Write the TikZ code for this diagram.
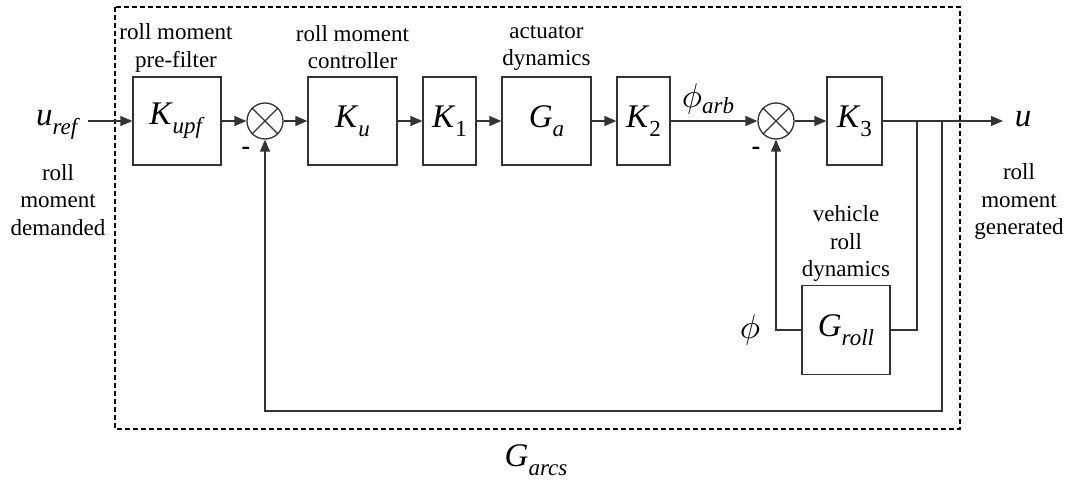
\documentclass[tikz,border=0pt]{standalone}
\usepackage{fontspec}
\usepackage{graphicx}
\setmainfont{Liberation Serif}
\usetikzlibrary{arrows.meta}
\newcommand\blksym[2]{{\fontsize{33}{33}\selectfont\textit{#1}}\raisebox{-9pt}{\fontsize{23}{23}\selectfont #2}}
\newcommand\phisym{\scalebox{3.4}{$\phi$}}
\tikzset{
  ln/.style={draw=black!80, line width=1.3pt},
  blk/.style={ln, rectangle, minimum height=88pt, inner sep=0pt},
  sumj/.style={ln, circle, minimum size=36pt, inner sep=0pt},
  arr/.style={ln, -{Triangle[length=12pt,width=10pt]}},
  lbl/.style={align=center, inner sep=0pt, font=\fontsize{23}{27.5}\selectfont},
  sign/.style={inner sep=0pt, font=\fontsize{26}{26}\selectfont\bfseries},
  frame/.style={draw=black, line width=2.2pt, dash pattern=on 5pt off 3pt}
}
\begin{document}
\begin{tikzpicture}[x=1pt,y=-1pt]
\useasboundingbox (0,0) rectangle (1072,484);
\draw[frame] (115,7) rectangle (960,429);
% blocks
\node[blk, minimum width=88pt] (kupf) at (177,121) {\blksym{K}{\textit{upf}}};
\node[sumj] (s1) at (265,121) {};
\node[blk, minimum width=89pt] (ku) at (352.5,121) {\blksym{K}{\textit{u}}};
\node[blk, minimum width=53pt] (k1) at (449.5,121) {\blksym{K}{1}};
\node[blk, minimum width=89pt] (ga) at (546.5,121) {\blksym{G}{\textit{a}}};
\node[blk, minimum width=53pt] (k2) at (643.5,121) {\blksym{K}{2}};
\node[sumj] (s2) at (776,121) {};
\node[blk, minimum width=55pt] (k3) at (854.5,121) {\blksym{K}{3}};
\node[blk, minimum width=88pt, minimum height=89pt] (groll) at (846,330) {\blksym{G}{\textit{roll}}};
% crosses
\draw[ln] (s1.north east) -- (s1.south west) (s1.north west) -- (s1.south east);
\draw[ln] (s2.north east) -- (s2.south west) (s2.north west) -- (s2.south east);
% coordinates
\coordinate (in) at (88,121);
\coordinate (b1) at (917,121);
\coordinate (b2) at (942,121);
\coordinate (out) at (1003,121);
\coordinate (fb) at (942,411);
% connectors
\draw[arr] (in) -- (kupf);
\draw[arr] (kupf) -- (s1);
\draw[arr] (s1) -- (ku);
\draw[arr] (ku) -- (k1);
\draw[arr] (k1) -- (ga);
\draw[arr] (ga) -- (k2);
\draw[arr] (k2) -- (s2);
\draw[arr] (s2) -- (k3);
\draw[arr] (k3) -- (out);
\draw[ln] (groll.east) -| (b1);
\draw[arr] (groll.west) -| (s2.south);
\draw[arr] (b2) -- (fb) -| (s1.south);
% labels
\node[lbl] (l1) at (176,48) {roll moment\\pre-filter};
\node[lbl] (l2) at (352.5,47) {roll moment\\controller};
\node[lbl] (l3) at (546.5,48) {actuator\\dynamics};
\node[lbl] (l4) at (846,244) {vehicle\\roll\\dynamics};
\node[lbl] (l5) at (58,200) {roll\\moment\\demanded};
\node[lbl] (l6) at (1019,202) {roll\\moment\\generated};
\node[inner sep=0pt] (uref) at (58,125) {\blksym{u}{\textit{ref}}};
\node[inner sep=0pt] (u) at (1023,119) {{\fontsize{33}{33}\selectfont\textit{u}}};
\node[inner sep=0pt] (phiarb) at (708,99) {\phisym\raisebox{-6pt}{\fontsize{23}{23}\selectfont\textit{arb}}};
\node[inner sep=0pt] (phi) at (750,330) {\phisym};
\node[inner sep=0pt] (garcs) at (536,460) {\blksym{G}{\textit{arcs}}};
\node[sign] (m1) at (246,151) {-};
\node[sign] (m2) at (756,151) {-};
\end{tikzpicture}
\end{document}
